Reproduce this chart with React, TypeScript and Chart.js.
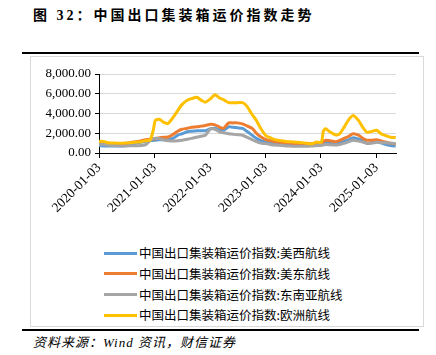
import React, { useEffect, useRef } from "react";
import { Chart, registerables } from "chart.js";

Chart.register(...registerables);

const dates = [
  "2020-01-03", "2020-02-07", "2020-03-06", "2020-04-03", "2020-05-08", "2020-06-05", "2020-07-03", "2020-08-07", "2020-09-04", "2020-10-09", "2020-11-06", "2020-12-04", "2020-12-25",
  "2021-01-08", "2021-02-05", "2021-03-05", "2021-04-02", "2021-05-07", "2021-06-04", "2021-07-02", "2021-08-06", "2021-09-03", "2021-10-08", "2021-11-05", "2021-12-03",
  "2022-01-07", "2022-02-04", "2022-03-04", "2022-04-01", "2022-05-06", "2022-06-03", "2022-07-01", "2022-08-05", "2022-09-02", "2022-10-07", "2022-11-04", "2022-12-02",
  "2023-01-06", "2023-02-03", "2023-03-03", "2023-04-07", "2023-05-05", "2023-06-02", "2023-07-07", "2023-08-04", "2023-09-01", "2023-10-06", "2023-11-03", "2023-12-01",
  "2024-01-05", "2024-01-19", "2024-02-02", "2024-03-01", "2024-04-05", "2024-05-03", "2024-06-07", "2024-07-05", "2024-08-02", "2024-09-06", "2024-10-04", "2024-11-01", "2024-12-06",
  "2025-01-03", "2025-02-07", "2025-03-07", "2025-04-04", "2025-05-09",
];

const usWest = [
  750, 720, 700, 700, 700, 720, 760, 850, 1000, 1100, 1200, 1250, 1270,
  1300, 1350, 1350, 1350, 1500, 1800, 1950, 2150, 2200, 2250, 2250, 2250,
  2450, 2500, 2350, 2300, 2650, 2600, 2550, 2490, 2200, 1800, 1480, 1250,
  1120, 1050, 980, 950, 900, 880, 860, 840, 800, 790, 780, 800,
  800, 1000, 1120, 1050, 960, 1050, 1200, 1350, 1550, 1400, 1250, 980, 1050,
  1150, 1000, 850, 760, 700,
];

const usEast = [
  1000, 980, 960, 950, 950, 970, 1000, 1080, 1150, 1250, 1350, 1400, 1420,
  1450, 1550, 1600, 1620, 1900, 2200, 2400, 2500, 2600, 2650, 2720, 2780,
  2900, 2850, 2650, 2500, 3050, 3050, 3050, 2950, 2750, 2500, 2000, 1650,
  1360, 1250, 1150, 1100, 1050, 1000, 970, 960, 950, 950, 930, 900,
  950, 1150, 1300, 1250, 1150, 1250, 1500, 1700, 1950, 1800, 1500, 1300, 1300,
  1350, 1200, 1100, 1000, 900,
];

const seAsia = [
  900, 850, 780, 750, 730, 720, 720, 730, 740, 760, 850, 1250, 1450,
  1500, 1450, 1300, 1230, 1220, 1250, 1300, 1400, 1480, 1600, 1700, 1800,
  2450, 2400, 2150, 2050, 1950, 1900, 1850, 1800, 1600, 1350, 1150, 1000,
  950, 860, 800, 780, 740, 710, 690, 685, 680, 690, 700, 740,
  780, 820, 860, 840, 800, 850, 1000, 1150, 1300, 1200, 1100, 980, 1000,
  1080, 1050, 1030, 1000, 950,
];

const europe = [
  1190, 1150, 1030, 1020, 1000, 1000, 1010, 1050, 1100, 1150, 1250, 1300, 2300,
  3300, 3400, 3100, 3000, 3650, 4300, 4900, 5350, 5500, 5650, 5350, 5150,
  5500, 5900, 5600, 5400, 5100, 5100, 5100, 5100, 4750, 3900, 3300, 2500,
  1750, 1550, 1350, 1280, 1200, 1150, 1120, 1080, 1050, 980, 920, 1100,
  1100, 2200, 2450, 2150, 1850, 1900, 2700, 3400, 3800, 3300, 2600, 2100, 2200,
  2300, 1900, 1750, 1600, 1580,
];

const seriesNames = [
  "中国出口集装箱运价指数:美西航线",
  "中国出口集装箱运价指数:美东航线",
  "中国出口集装箱运价指数:东南亚航线",
  "中国出口集装箱运价指数:欧洲航线",
];
const seriesColors = ["#5B9BD5", "#ED7D31", "#A5A5A5", "#FFC000"];

const xTickLabels = ["2020-01-03", "2021-01-03", "2022-01-03", "2023-01-03", "2024-01-03", "2025-01-03"];
const xAxisEnd = "2025-05-11";
const yTicks = [0, 2000, 4000, 6000, 8000];

const DAY = 86400000;
const toDays = (d: string) => (Date.parse(d) - Date.parse(dates[0])) / DAY;

export default function App() {
  const ref = useRef<HTMLCanvasElement | null>(null);

  useEffect(() => {
    const canvas = ref.current;
    if (!canvas) return;
    const all = [usWest, usEast, seAsia, europe];
    const tickVals = xTickLabels.map(toDays);
    const chart = new Chart(canvas, {
      type: "line",
      data: {
        datasets: all.map((vals, i) => ({
          label: seriesNames[i],
          data: vals.map((v, j) => ({ x: toDays(dates[j]), y: v })),
          borderColor: seriesColors[i],
          backgroundColor: seriesColors[i],
          borderWidth: 3,
          pointRadius: 0,
          tension: 0.25,
          order: 3 - i,
        })),
      },
      options: {
        animation: false,
        responsive: false,
        devicePixelRatio: 1,
        layout: { padding: { left: 0, top: 18, right: 28, bottom: 0 } },
        plugins: { legend: { display: false }, tooltip: { enabled: false } },
        scales: {
          x: {
            type: "linear",
            min: 0,
            max: toDays(xAxisEnd),
            afterBuildTicks: (scale: any) => {
              scale.ticks = tickVals.map((v) => ({ value: v }));
            },
            afterFit: (scale: any) => {
              scale.height = 87;
            },
            ticks: {
              autoSkip: false,
              maxRotation: 45,
              minRotation: 45,
              padding: 2,
              color: "#000",
              font: { family: "'Liberation Serif', 'Times New Roman', serif", size: 13.5 },
              callback: (_v: any, idx: number) => xTickLabels[idx],
            },
            grid: { drawOnChartArea: false, tickColor: "#000", tickLength: 5 },
            border: { color: "#000", width: 1 },
          },
          y: {
            min: 0,
            max: 8000,
            afterBuildTicks: (scale: any) => {
              scale.ticks = yTicks.map((v) => ({ value: v }));
            },
            afterFit: (scale: any) => {
              scale.width = 69;
            },
            ticks: {
              color: "#000",
              padding: 4,
              font: { family: "'Liberation Serif', 'Times New Roman', serif", size: 13 },
              callback: (v: any) =>
                Number(v).toLocaleString("en-US", { minimumFractionDigits: 2, maximumFractionDigits: 2 }),
            },
            grid: { color: "#d9d9d9", lineWidth: 1, tickColor: "#000", tickLength: 4 },
            border: { color: "#000", width: 1 },
          },
        },
      },
    } as any);
    return () => chart.destroy();
  }, []);

  return (
    <div style={{ position: "absolute", left: 0, top: 0, width: 436, height: 355, background: "#fff" }}>
      <div
        style={{
          position: "absolute",
          left: 33,
          top: 6,
          fontFamily: "'Liberation Serif', 'Noto Sans CJK SC', serif",
          fontWeight: "bold",
          fontSize: 14,
          letterSpacing: 3,
          color: "#000",
          whiteSpace: "nowrap",
          lineHeight: "20px",
        }}
      >
        图 32：中国出口集装箱运价指数走势
      </div>
      <div style={{ position: "absolute", left: 22, top: 52, width: 397, height: 2, background: "#000" }} />
      <div
        style={{
          position: "absolute",
          left: 30,
          top: 56,
          width: 392,
          height: 269,
          border: "1px solid #d9d9d9",
        }}
      />
      <canvas
        ref={ref}
        width={394}
        height={184}
        style={{ position: "absolute", left: 30, top: 56, width: 394, height: 184 }}
      />
      {seriesNames.map((name, i) => (
        <div
          key={name}
          style={{
            position: "absolute",
            left: 104,
            top: 243 + i * 20.8,
            height: 20,
            display: "flex",
            alignItems: "center",
            whiteSpace: "nowrap",
          }}
        >
          <div style={{ width: 33, height: 3, background: seriesColors[i], marginRight: 2 }} />
          <span
            style={{
              fontFamily: "'Noto Sans CJK SC', sans-serif",
              fontSize: 12.5,
              color: "#000",
              lineHeight: "20px",
            }}
          >
            {name}
          </span>
        </div>
      ))}
      <div style={{ position: "absolute", left: 22, top: 329, width: 397, height: 2, background: "#000" }} />
      <div
        style={{
          position: "absolute",
          left: 33,
          top: 334,
          fontFamily: "'Liberation Serif', 'Noto Sans CJK SC', serif",
          fontStyle: "italic",
          fontSize: 13,
          letterSpacing: 1,
          color: "#000",
          whiteSpace: "nowrap",
          lineHeight: "18px",
        }}
      >
        资料来源：Wind 资讯，财信证券
      </div>
    </div>
  );
}
